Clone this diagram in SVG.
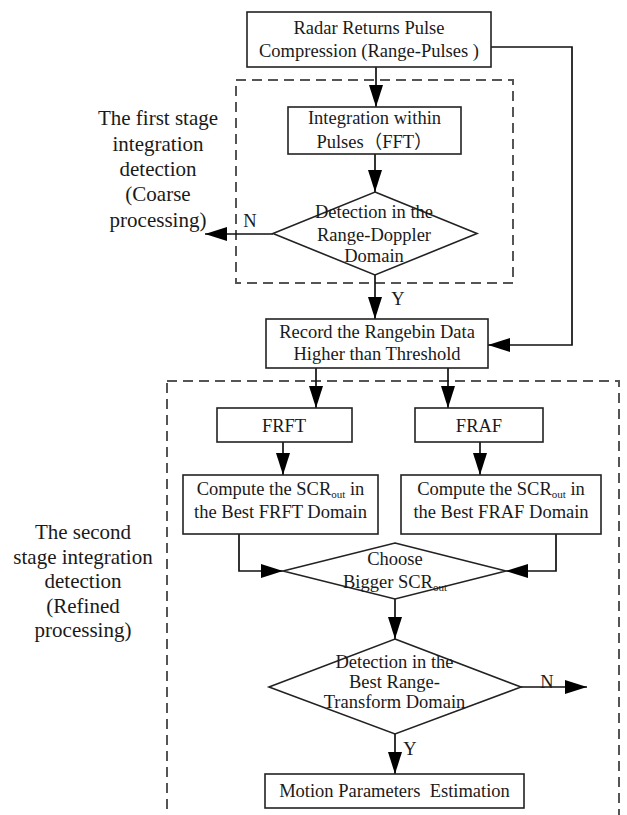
<svg xmlns="http://www.w3.org/2000/svg" width="627" height="815" viewBox="0 0 627 815">
<style>
.box{fill:#fff;stroke:#222;stroke-width:1.6}
.dash{fill:none;stroke:#555;stroke-width:2;stroke-dasharray:10 6}
.ln{fill:none;stroke:#111;stroke-width:1.7}
.t{font-family:"Liberation Serif","Times New Roman",serif;font-size:18.5px;fill:#1a1a1a;text-anchor:middle}
.lbl{font-family:"Liberation Serif","Times New Roman",serif;font-size:21px;fill:#1a1a1a;text-anchor:middle}
.sub{font-size:11px}
</style>
<defs>
<marker id="ah" markerUnits="userSpaceOnUse" markerWidth="22" markerHeight="14" refX="22" refY="7" orient="auto" viewBox="0 0 22 14">
<path d="M0,0 L22,7 L0,14 z" fill="#000"/>
</marker>
</defs>
<g id="stage1-frame"><rect class="dash" x="236" y="80" width="277" height="203"/></g>
<g id="stage2-frame"><rect class="dash" x="167" y="381" width="452" height="450"/></g>
<g id="label-stage1">
<text class="lbl" x="158" y="125">The first stage</text>
<text class="lbl" x="158" y="150.5">integration</text>
<text class="lbl" x="158" y="176">detection</text>
<text class="lbl" x="158" y="201">(Coarse</text>
<text class="lbl" x="158" y="226.5">processing)</text>
</g>
<g id="label-stage2">
<text class="lbl" x="83" y="539">The second</text>
<text class="lbl" x="83" y="563.5">stage integration</text>
<text class="lbl" x="83" y="588">detection</text>
<text class="lbl" x="83" y="612.5">(Refined</text>
<text class="lbl" x="83" y="637">processing)</text>
</g>
<g id="connectors">
<path class="ln" d="M376,67 V107" marker-end="url(#ah)"/>
<path class="ln" d="M375,154 V192" marker-end="url(#ah)"/>
<path class="ln" d="M273,234 H205" marker-end="url(#ah)"/>
<path class="ln" d="M375,275 V319" marker-end="url(#ah)"/>
<path class="ln" d="M491,47 H572 V345 H488" marker-end="url(#ah)"/>
<path class="ln" d="M316,368 V408" marker-end="url(#ah)"/>
<path class="ln" d="M448,368 V408" marker-end="url(#ah)"/>
<path class="ln" d="M283,442 V475" marker-end="url(#ah)"/>
<path class="ln" d="M480,442 V475" marker-end="url(#ah)"/>
<path class="ln" d="M239,534 V571 H283" marker-end="url(#ah)"/>
<path class="ln" d="M556,534 V571 H506" marker-end="url(#ah)"/>
<path class="ln" d="M395,599 V639" marker-end="url(#ah)"/>
<path class="ln" d="M521,687 H587" marker-end="url(#ah)"/>
<path class="ln" d="M395,734 V774" marker-end="url(#ah)"/>
<text class="t" x="250" y="227">N</text>
<text class="t" x="398" y="305">Y</text>
<text class="t" x="547" y="688">N</text>
<text class="t" x="410" y="755">Y</text>
</g>
<g id="node-radar">
<rect class="box" x="247" y="12" width="244" height="55"/>
<text class="t" x="369" y="34">Radar Returns Pulse</text>
<text class="t" x="369" y="57">Compression (Range-Pulses )</text>
</g>
<g id="node-fft">
<rect class="box" x="288" y="107" width="173" height="47"/>
<text class="t" x="374.5" y="124">Integration within</text>
<text class="t" x="374.5" y="147.5" style="font-family:'Liberation Serif','Noto Sans CJK SC',serif">Pulses（FFT）</text>
</g>
<g id="node-detect1">
<polygon class="box" points="375,192 477,233.5 375,275 273,233.5"/>
<text class="t" x="374" y="218">Detection in the</text>
<text class="t" x="374" y="241">Range-Doppler</text>
<text class="t" x="374" y="262">Domain</text>
</g>
<g id="node-record">
<rect class="box" x="266" y="319" width="222" height="49"/>
<text class="t" x="377" y="338">Record the Rangebin Data</text>
<text class="t" x="377" y="360">Higher than Threshold</text>
</g>
<g id="node-frft">
<rect class="box" x="217" y="408" width="135" height="34"/>
<text class="t" x="284" y="431.5">FRFT</text>
</g>
<g id="node-fraf">
<rect class="box" x="415" y="408" width="128" height="34"/>
<text class="t" x="479" y="431.5">FRAF</text>
</g>
<g id="node-scr-frft">
<rect class="box" x="183" y="475" width="195" height="59"/>
<text class="t" x="280.5" y="495">Compute the SCR<tspan class="sub" dy="3">out</tspan><tspan dy="-3"> in</tspan></text>
<text class="t" x="280.5" y="518">the Best FRFT Domain</text>
</g>
<g id="node-scr-fraf">
<rect class="box" x="401" y="475" width="200" height="59"/>
<text class="t" x="501" y="495">Compute the SCR<tspan class="sub" dy="3">out</tspan><tspan dy="-3"> in</tspan></text>
<text class="t" x="501" y="518">the Best FRAF Domain</text>
</g>
<g id="node-choose">
<polygon class="box" points="395,543 506,571 395,599 283,571"/>
<text class="t" x="395" y="565">Choose</text>
<text class="t" x="395" y="588">Bigger SCR<tspan class="sub" dy="3">out</tspan></text>
</g>
<g id="node-detect2">
<polygon class="box" points="395,639 521,687 395,734 269,687"/>
<text class="t" x="394.5" y="668">Detection in the</text>
<text class="t" x="394.5" y="688">Best Range-</text>
<text class="t" x="394.5" y="708">Transform Domain</text>
</g>
<g id="node-motion">
<rect class="box" x="265" y="774" width="259" height="34"/>
<text class="t" x="394.5" y="797" xml:space="preserve">Motion Parameters  Estimation</text>
</g>
</svg>
